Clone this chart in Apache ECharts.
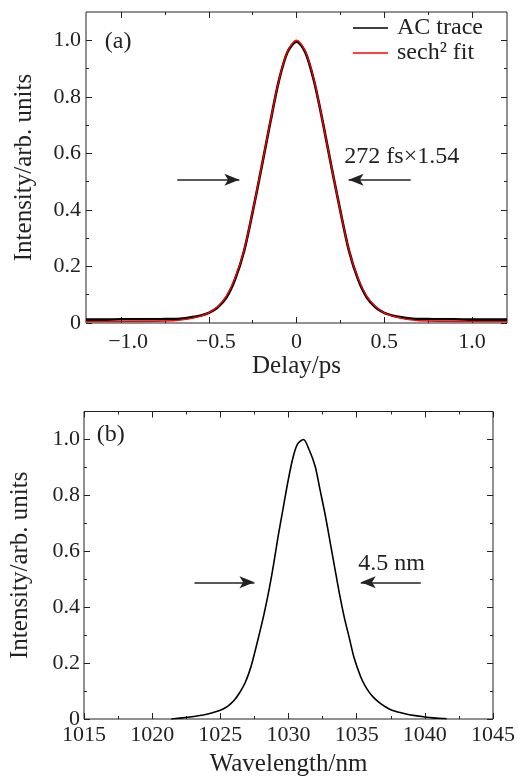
<!DOCTYPE html>
<html>
<head>
<meta charset="utf-8">
<script src="https://cdn.jsdelivr.net/npm/echarts@6/dist/echarts.min.js"></script>
<style>
html, body { margin: 0; padding: 0; background: #fff; }
#main { width: 518px; height: 778px; }
</style>
</head>
<body>
<div id="main"></div>
<script>
// (a) autocorrelation, delay in ps
var acTime = [-1.2, -1.1, -1.0, -0.9, -0.8, -0.75, -0.7, -0.65, -0.6, -0.55, -0.5, -0.45, -0.4, -0.35, -0.3, -0.25, -0.2, -0.15, -0.1, -0.05,
    0, 0.05, 0.1, 0.15, 0.2, 0.25, 0.3, 0.35, 0.4, 0.45, 0.5, 0.55, 0.6, 0.65, 0.7, 0.75, 0.8, 0.9, 1.0, 1.1, 1.2]
var acTrace = [0.012, 0.012, 0.013, 0.013, 0.013, 0.014, 0.014, 0.016, 0.02, 0.026, 0.036, 0.055, 0.09, 0.155, 0.252, 0.393, 0.548, 0.708, 0.858, 0.96,
    0.995, 0.958, 0.856, 0.71, 0.55, 0.396, 0.254, 0.156, 0.091, 0.056, 0.036, 0.026, 0.02, 0.016, 0.014, 0.014, 0.013, 0.013, 0.012, 0.012, 0.012]
var fitTime = [-1.2, -1.0, -0.8, -0.7, -0.65, -0.6, -0.55, -0.5, -0.45, -0.4, -0.35, -0.3, -0.25, -0.2, -0.15, -0.1, -0.05,
    0, 0.05, 0.1, 0.15, 0.2, 0.25, 0.3, 0.35, 0.4, 0.45, 0.5, 0.55, 0.6, 0.65, 0.7, 0.8, 1.0, 1.2]
var fitValue = [0.005, 0.005, 0.006, 0.008, 0.011, 0.016, 0.024, 0.036, 0.058, 0.095, 0.16, 0.255, 0.395, 0.55, 0.71, 0.86, 0.962,
    1.0, 0.962, 0.86, 0.71, 0.55, 0.395, 0.255, 0.16, 0.095, 0.058, 0.036, 0.024, 0.016, 0.011, 0.008, 0.006, 0.005, 0.005]

// (b) spectrum
var wavelength = [1021.4, 1022.0, 1022.6, 1023.3, 1024.0, 1024.6, 1025.2, 1025.6, 1026.0, 1026.4, 1026.8, 1027.1, 1027.35, 1027.8, 1028.2, 1028.6,
    1028.9, 1029.25, 1029.6, 1029.95, 1030.3, 1030.65, 1031.1, 1031.5, 1031.95, 1032.3, 1032.7, 1033.05, 1033.4, 1033.75, 1034.1, 1034.45,
    1034.8, 1035.3, 1035.6, 1035.9, 1036.2, 1036.6, 1037.0, 1037.5, 1038.1, 1038.7, 1039.3, 1039.9, 1040.6, 1041.3, 1041.6]
var spectrum = [0.0, 0.003, 0.006, 0.011, 0.017, 0.025, 0.036, 0.048, 0.066, 0.093, 0.128, 0.165, 0.205, 0.292, 0.374, 0.469,
    0.551, 0.657, 0.752, 0.847, 0.929, 0.982, 1.0, 0.965, 0.905, 0.823, 0.728, 0.634, 0.539, 0.445, 0.362, 0.292,
    0.221, 0.15, 0.12, 0.097, 0.079, 0.061, 0.047, 0.033, 0.024, 0.017, 0.012, 0.008, 0.004, 0.002, 0.001]

var delayTicks = [-1.0, -0.5, 0, 0.5, 1.0]
var delayMinor = [-0.75, -0.25, 0.25, 0.75]
var waveTicks = [1015, 1020, 1025, 1030, 1035, 1040, 1045]
var waveMinor = [1017.5, 1022.5, 1027.5, 1032.5, 1037.5, 1042.5]
var intensityTicks = [0, 0.2, 0.4, 0.6, 0.8, 1.0]
var intensityMinor = [0.1, 0.3, 0.5, 0.7, 0.9]

var font = 'Liberation Serif'
var ink = '#222'
var tickSize = 22
var textSize = 24
var nameSize = 25

var pairs = (xs, ys) => xs.map((x, i) => [x, ys[i]])

var tickAxis = (grid, position, min, max, values, length, label) => {
    var axis = {
        type: 'value',
        gridIndex: grid,
        position: position,
        min: min,
        max: max,
        axisLine: {show: false, onZero: false},
        splitLine: {show: false},
        axisTick: {show: true, inside: true, length: length, customValues: values, lineStyle: {color: ink, width: 1}},
        axisLabel: {show: false, customValues: values},
    }
    if (label) {
        axis.axisLabel = Object.assign({
            show: true,
            customValues: values,
            fontFamily: font,
            fontSize: tickSize,
            color: ink,
        }, label)
    }
    return axis
}

var delayLabel = (v) => {
    if (v === 0) {
        return '0'
    }
    var s = Math.abs(v).toFixed(1)
    if (v < 0) {
        return '{neg|\u2212' + s + '}'
    }
    return s
}

var intensityLabel = (v) => v === 0 ? '0' : v.toFixed(1)

var nameStyle = {fontFamily: font, fontSize: nameSize, color: ink}

var textMark = (x, y, text) => {
    return {
        coord: [x, y],
        symbol: 'circle',
        symbolSize: 0,
        itemStyle: {color: 'rgba(0,0,0,0)'},
        label: {show: true, position: 'inside', formatter: text, fontFamily: font, fontSize: textSize, color: ink},
    }
}

var arrowLine = (x1, x2, y) => [{coord: [x1, y]}, {coord: [x2, y]}]

var nameAxis = (axis, name, gap) => {
    axis.name = name
    axis.nameLocation = 'middle'
    axis.nameGap = gap
    axis.nameTextStyle = nameStyle
    return axis
}

var buildOption = () => {
    var xAxis = []
    var yAxis = []

    // grid 0: autocorrelation
    xAxis.push(nameAxis(tickAxis(0, 'bottom', -1.2, 1.2, delayTicks, 6, {
        margin: 8,
        formatter: delayLabel,
        rich: {neg: {fontFamily: font, fontSize: tickSize, color: ink, padding: [0, 0, 0, 14]}},
    }), 'Delay/ps', 30))
    xAxis.push(tickAxis(0, 'bottom', -1.2, 1.2, delayMinor, 3))
    xAxis.push(tickAxis(0, 'top', -1.2, 1.2, delayTicks, 6))
    xAxis.push(tickAxis(0, 'top', -1.2, 1.2, delayMinor, 3))

    yAxis.push(nameAxis(tickAxis(0, 'left', 0, 1.1, intensityTicks, 6, {margin: 5, formatter: intensityLabel}), 'Intensity/arb. units', 49))
    yAxis.push(tickAxis(0, 'left', 0, 1.1, intensityMinor, 3))
    yAxis.push(tickAxis(0, 'right', 0, 1.1, intensityTicks, 6))
    yAxis.push(tickAxis(0, 'right', 0, 1.1, intensityMinor, 3))

    // grid 1: spectrum
    xAxis.push(nameAxis(tickAxis(1, 'bottom', 1015, 1045, waveTicks, 6, {margin: 5, formatter: (v) => String(v)}), 'Wavelength/nm', 33))
    xAxis.push(tickAxis(1, 'bottom', 1015, 1045, waveMinor, 3))
    xAxis.push(tickAxis(1, 'top', 1015, 1045, waveTicks, 6))
    xAxis.push(tickAxis(1, 'top', 1015, 1045, waveMinor, 3))

    yAxis.push(nameAxis(tickAxis(1, 'left', 0, 1.1, intensityTicks, 6, {margin: 4, formatter: intensityLabel}), 'Intensity/arb. units', 51))
    yAxis.push(tickAxis(1, 'left', 0, 1.1, intensityMinor, 3))
    yAxis.push(tickAxis(1, 'right', 0, 1.1, intensityTicks, 6))
    yAxis.push(tickAxis(1, 'right', 0, 1.1, intensityMinor, 3))

    var arrowStyle = {
        silent: true,
        symbol: ['none', 'arrow'],
        symbolSize: [9, 15],
        lineStyle: {color: ink, width: 1.5, type: 'solid'},
        label: {show: false},
        emphasis: {disabled: true},
    }

    var option = {
        animation: false,
        backgroundColor: '#fff',
        grid: [
            {left: 86, top: 12, width: 421, height: 311, show: true, borderColor: ink, borderWidth: 1, backgroundColor: 'transparent'},
            {left: 76, top: 411.5, width: 422, height: 311, show: true, borderColor: ink, borderWidth: 1, backgroundColor: 'transparent'},
        ],
        legend: {
            data: ['AC trace', 'sech\u00b2 fit'],
            orient: 'vertical',
            left: 348,
            top: 11,
            icon: 'rect',
            itemWidth: 35,
            itemHeight: 1.6,
            itemGap: 1,
            textStyle: {fontFamily: font, fontSize: textSize, color: ink, padding: [0, 0, 0, 4]},
        },
        xAxis: xAxis,
        yAxis: yAxis,
        series: [
            {
                name: 'AC trace',
                type: 'line',
                xAxisIndex: 0,
                yAxisIndex: 0,
                data: pairs(acTime, acTrace),
                symbol: 'none',
                smooth: 0.3,
                lineStyle: {color: '#000', width: 2.6},
                itemStyle: {color: '#000'},
                markLine: Object.assign({
                    data: [arrowLine(-0.68, -0.326, 0.507), arrowLine(0.651, 0.297, 0.507)],
                }, arrowStyle),
                markPoint: {
                    silent: true,
                    data: [textMark(-1.017, 0.995, '(a)'), textMark(0.6, 0.589, '272 fs\u00d71.54')],
                },
            },
            {
                name: 'sech\u00b2 fit',
                type: 'line',
                xAxisIndex: 0,
                yAxisIndex: 0,
                data: pairs(fitTime, fitValue),
                symbol: 'none',
                smooth: 0.3,
                lineStyle: {color: '#f00', width: 1.3},
                itemStyle: {color: '#f00'},
            },
            {
                name: 'spectrum',
                type: 'line',
                xAxisIndex: 4,
                yAxisIndex: 4,
                data: pairs(wavelength, spectrum),
                symbol: 'none',
                smooth: 0.3,
                lineStyle: {color: '#000', width: 1.6},
                itemStyle: {color: '#000'},
                markLine: Object.assign({
                    data: [arrowLine(1023.1, 1027.5, 0.489), arrowLine(1039.7, 1035.3, 0.489)],
                }, arrowStyle),
                markPoint: {
                    silent: true,
                    data: [textMark(1016.97, 1.018, '(b)'), textMark(1037.57, 0.554, '4.5 nm')],
                },
            },
        ],
    }
    return option
}

var __main = () => {
    var element = document.querySelector('#main')
    var chart = echarts.init(element, null, {renderer: 'canvas'})
    chart.setOption(buildOption())
}
__main()
</script>
</body>
</html>
